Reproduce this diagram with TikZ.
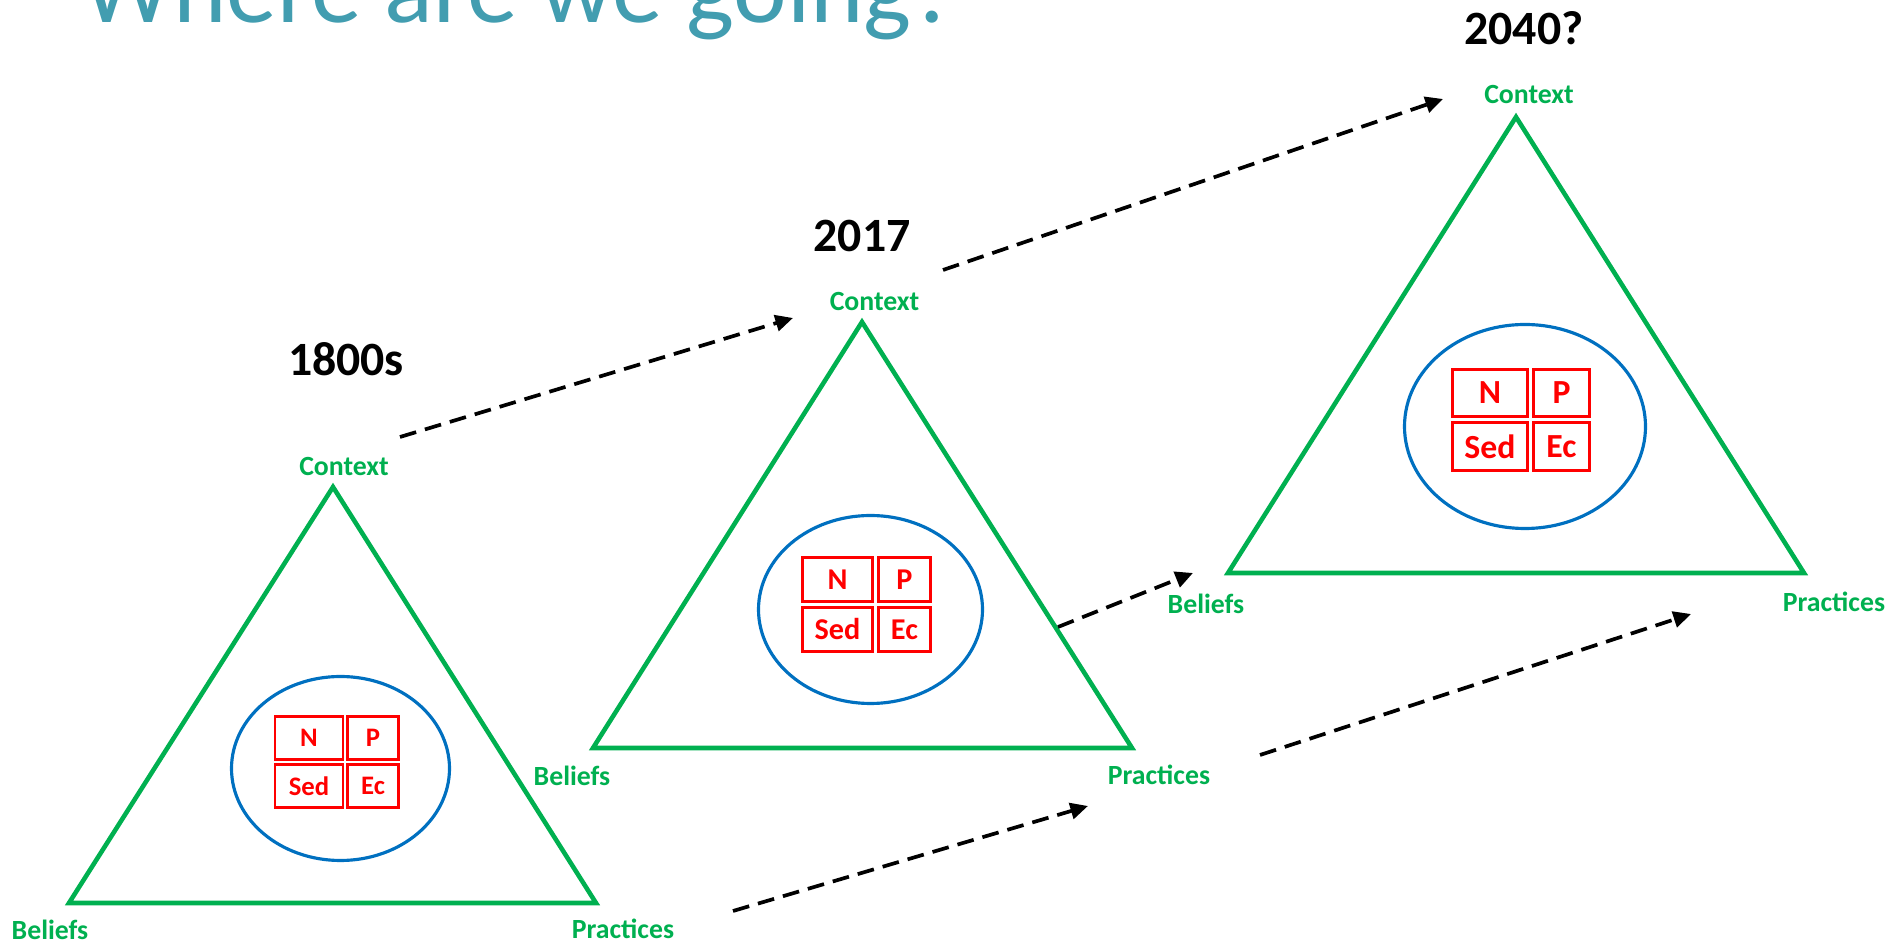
\documentclass[tikz,border=0pt]{standalone}
\usepackage{fontspec}
\setmainfont{Carlito}
\usetikzlibrary{positioning}
\usetikzlibrary{arrows.meta}
\usetikzlibrary{shapes.geometric}

\definecolor{ctxgreen}{RGB}{0,176,80}
\definecolor{ringblue}{RGB}{0,112,192}
\definecolor{titleteal}{RGB}{66,157,176}

\begin{document}
\begin{tikzpicture}[x=1cm,y=1cm]
\tikzstyle{corner}=[text=ctxgreen,font=\bfseries\fontsize{7.9}{9}\selectfont,inner sep=0pt]
\tikzstyle{year}=[text=black,font=\bfseries\fontsize{13.6}{16}\selectfont,inner sep=0pt]
\tikzstyle{side}=[draw=ctxgreen,line width=1.3pt]
\tikzstyle{ring}=[ellipse,draw=ringblue,line width=0.9pt,inner sep=0pt]
\tikzstyle{cell}=[rectangle,draw=red,line width=0.8pt,text=red,inner sep=0pt]
\tikzstyle{move}=[-{Triangle[length=5pt,width=4.6pt]},dash pattern=on 4.8pt off 2.6pt,line width=1.05pt]

% \draw[help lines] (0,0) grid (19,-10);

\useasboundingbox (0,0) rectangle (18.93,-9.42);
\clip (0,0) rectangle (18.93,-9.42);

\node[anchor=base west,text=titleteal,font=\fontsize{28.9}{34}\selectfont,inner sep=0pt] (title) at (0.82,-0.23) {Where are we going?};

% 1800s
\coordinate (t1top) at (3.33,-4.87);
\coordinate (t1left) at (0.69,-9.03);
\coordinate (t1right) at (5.96,-9.03);
\draw[side] (t1top) -- (t1left) -- (t1right) -- cycle;

\node[ring,minimum width=2.18cm,minimum height=1.84cm] (ring1) at (3.405,-7.685) {};
\node[cell,minimum width=0.68cm,minimum height=0.43cm,font=\bfseries\fontsize{7.6}{9}\selectfont] (n1) at (3.09,-7.38) {N};
\node[cell,minimum width=0.51cm,minimum height=0.43cm,font=\bfseries\fontsize{7.6}{9}\selectfont] (p1) at (3.73,-7.38) {P};
\node[cell,minimum width=0.68cm,minimum height=0.43cm,font=\bfseries\fontsize{7.6}{9}\selectfont] (sed1) at (3.09,-7.86) {Sed};
\node[cell,minimum width=0.51cm,minimum height=0.43cm,font=\bfseries\fontsize{7.6}{9}\selectfont] (ec1) at (3.73,-7.86) {Ec};

\node[corner] (ctx1) at (3.44,-4.67) {Context};
\node[corner] (bel1) at (0.50,-9.30) {Beliefs};
\node[corner] (pra1) at (6.23,-9.29) {Practices};
\node[year] (yr1) at (3.46,-3.59) {1800s};

% 2017
\coordinate (t2top) at (8.62,-3.22);
\coordinate (t2left) at (5.93,-7.48);
\coordinate (t2right) at (11.32,-7.48);
\draw[side] (t2top) -- (t2left) -- (t2right) -- cycle;

\node[ring,minimum width=2.24cm,minimum height=1.88cm] (ring2) at (8.705,-6.095) {};
\node[cell,minimum width=0.70cm,minimum height=0.44cm,font=\bfseries\fontsize{8.6}{10}\selectfont] (n2) at (8.375,-5.795) {N};
\node[cell,minimum width=0.52cm,minimum height=0.44cm,font=\bfseries\fontsize{8.6}{10}\selectfont] (p2) at (9.045,-5.795) {P};
\node[cell,minimum width=0.70cm,minimum height=0.44cm,font=\bfseries\fontsize{8.6}{10}\selectfont] (sed2) at (8.375,-6.295) {Sed};
\node[cell,minimum width=0.52cm,minimum height=0.44cm,font=\bfseries\fontsize{8.6}{10}\selectfont] (ec2) at (9.045,-6.295) {Ec};

\node[corner] (ctx2) at (8.745,-3.02) {Context};
\node[corner] (bel2) at (5.72,-7.76) {Beliefs};
\node[corner] (pra2) at (11.59,-7.75) {Practices};
\node[year] (yr2) at (8.62,-2.36) {2017};

% 2040?
\coordinate (t3top) at (15.16,-1.17);
\coordinate (t3left) at (12.28,-5.73);
\coordinate (t3right) at (18.04,-5.73);
\draw[side] (t3top) -- (t3left) -- (t3right) -- cycle;

\node[ring,minimum width=2.41cm,minimum height=2.04cm] (ring3) at (15.25,-4.265) {};
\node[cell,minimum width=0.75cm,minimum height=0.47cm,font=\bfseries\fontsize{9.6}{11}\selectfont] (n3) at (14.90,-3.93) {N};
\node[cell,minimum width=0.56cm,minimum height=0.47cm,font=\bfseries\fontsize{9.6}{11}\selectfont] (p3) at (15.615,-3.93) {P};
\node[cell,minimum width=0.75cm,minimum height=0.48cm,font=\bfseries\fontsize{9.6}{11}\selectfont] (sed3) at (14.90,-4.465) {Sed};
\node[cell,minimum width=0.56cm,minimum height=0.48cm,font=\bfseries\fontsize{9.6}{11}\selectfont] (ec3) at (15.615,-4.465) {Ec};

\node[corner] (ctx3) at (15.29,-0.95) {Context};
\node[corner] (bel3) at (12.06,-6.04) {Beliefs};
\node[corner] (pra3) at (18.34,-6.02) {Practices};
\node[year] (yr3) at (15.24,-0.28) {2040?};

% dashed moves
\coordinate (ctxA) at (4.00,-4.37);
\coordinate (ctxB) at (7.93,-3.18);
\coordinate (ctxC) at (9.43,-2.70);
\coordinate (ctxD) at (14.43,-0.99);
\coordinate (praA) at (7.33,-9.11);
\coordinate (praB) at (10.88,-8.06);
\coordinate (praC) at (12.60,-7.55);
\coordinate (praD) at (16.91,-6.14);
\coordinate (belA) at (10.58,-6.27);
\coordinate (belB) at (11.93,-5.73);

\draw[move] (ctxA) -- (ctxB);
\draw[move] (ctxC) -- (ctxD);
\draw[move] (praA) -- (praB);
\draw[move] (praC) -- (praD);
\draw[move] (belA) -- (belB);

\end{tikzpicture}
\end{document}
